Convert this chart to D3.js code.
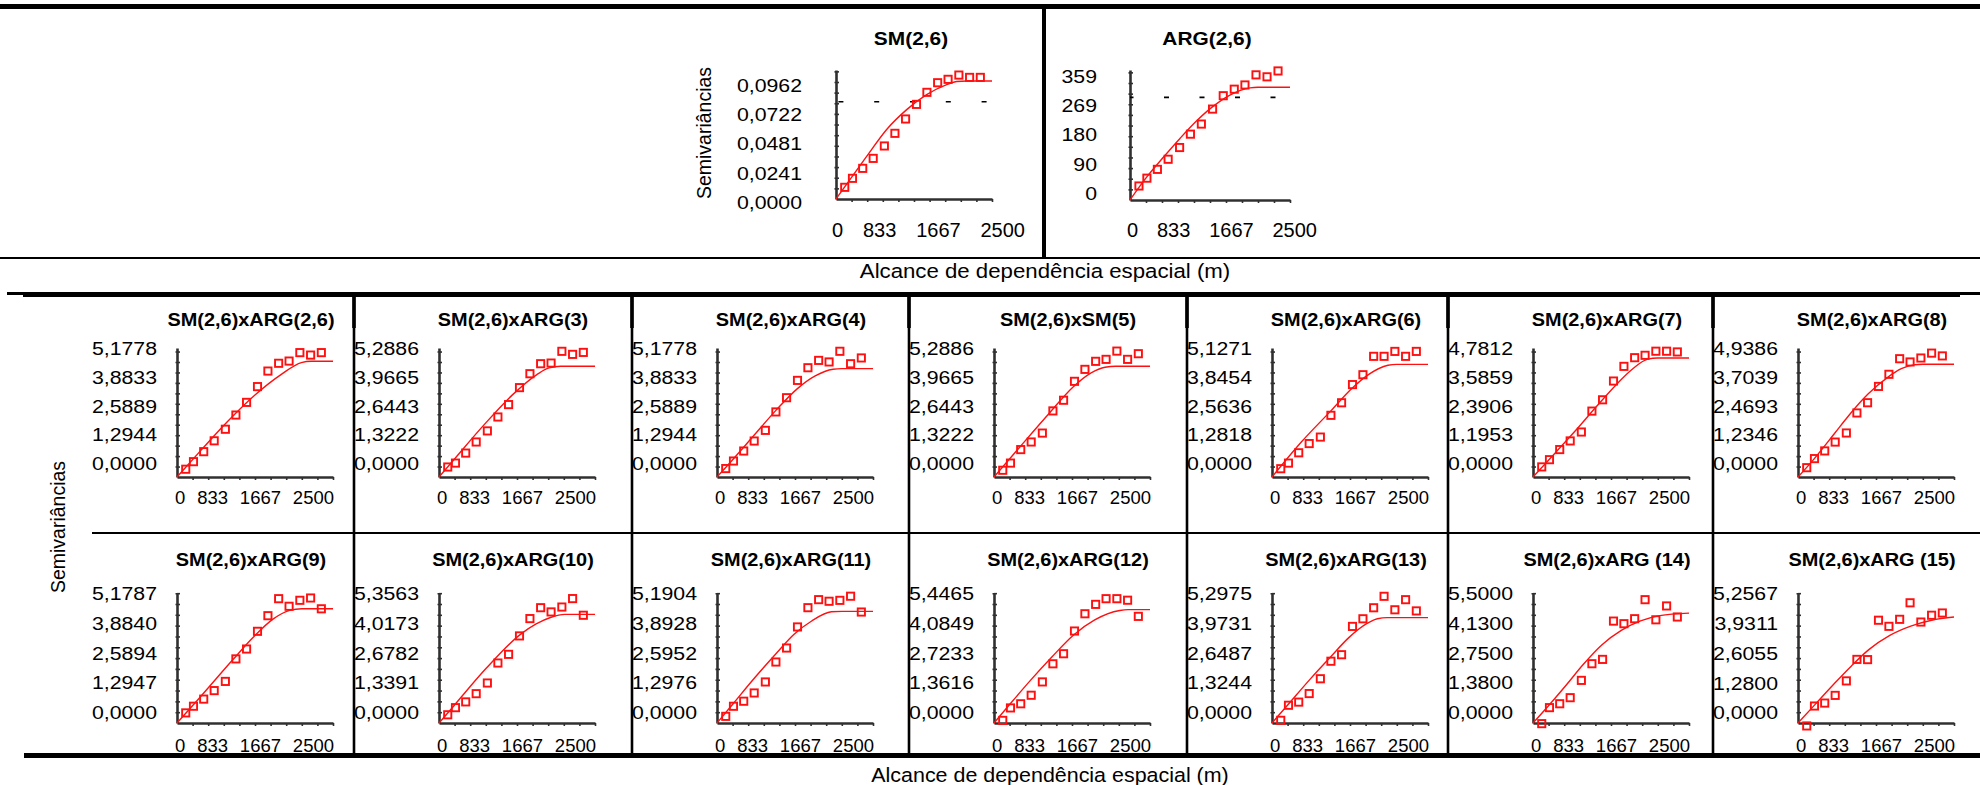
<!DOCTYPE html>
<html><head><meta charset="utf-8">
<script src="https://cdn.jsdelivr.net/npm/d3@7"></script>
<style>
body{margin:0;background:#fff}
svg{display:block}
text{font-family:"Liberation Sans",Arial,sans-serif;fill:#000}
</style></head>
<body><svg id="c" width="1980" height="785"></svg>
<script>
// ---------- DATA ----------
const lagDistances = [140, 264, 428, 596, 775, 944, 1115, 1290, 1457, 1629, 1796, 1969, 2141, 2313];
const xTickValues = [0, 833, 1667, 2500];
const xTickLabels = ["0", "833", "1667", "2500"];

// top panels
const topTitles = ["SM(2,6)", "ARG(2,6)"];
const semSM26 = [0.0096, 0.0170, 0.0252, 0.0334, 0.0436, 0.0540, 0.0658, 0.0778, 0.0877, 0.0956, 0.0984, 0.1019, 0.1000, 0.1000];
const fitSM26 = [[0,0],[171,0.0123],[491,0.0350],[812,0.0572],[1133,0.0735],[1453,0.0858],[1774,0.0940],[1934,0.0966],[2100,0.0970],[2500,0.0970]];
const ticksSM26 = ["0,0000","0,0241","0,0481","0,0722","0,0962"];
const varSM26 = 0.0800;
const semARG26 = [43, 67, 94, 125, 161, 202, 233, 279, 320, 340, 353, 384, 378, 396];
const fitARG26 = [[0,0],[260,70],[521,131],[781,189],[1042,243],[1302,288],[1562,322],[1875,344],[2000,346],[2500,346]];
const ticksARG26 = ["0","90","180","269","359"];
const varARG26 = 315;

// cross-semivariogram panels
const gridTitles = ["SM(2,6)xARG(2,6)","SM(2,6)xARG(3)","SM(2,6)xARG(4)","SM(2,6)xSM(5)","SM(2,6)xARG(6)","SM(2,6)xARG(7)","SM(2,6)xARG(8)",
  "SM(2,6)xARG(9)","SM(2,6)xARG(10)","SM(2,6)xARG(11)","SM(2,6)xARG(12)","SM(2,6)xARG(13)","SM(2,6)xARG (14)","SM(2,6)xARG (15)"];

const semX1  = [0.35, 0.69, 1.14, 1.63, 2.15, 2.79, 3.36, 4.07, 4.77, 5.12, 5.22, 5.60, 5.49, 5.60];
const semX2  = [0.46, 0.64, 1.10, 1.61, 2.12, 2.76, 3.33, 4.11, 4.75, 5.21, 5.24, 5.78, 5.64, 5.73];
const semX3  = [0.38, 0.72, 1.17, 1.62, 2.10, 2.93, 3.57, 4.35, 4.92, 5.25, 5.18, 5.66, 5.10, 5.36];
const semX4  = [0.31, 0.64, 1.26, 1.61, 2.02, 3.04, 3.53, 4.40, 4.95, 5.32, 5.41, 5.79, 5.41, 5.67];
const semX5  = [0.37, 0.62, 1.08, 1.49, 1.78, 2.75, 3.31, 4.12, 4.56, 5.38, 5.38, 5.60, 5.38, 5.60];
const semX6  = [0.42, 0.72, 1.14, 1.50, 1.87, 2.74, 3.21, 3.99, 4.60, 4.96, 5.06, 5.23, 5.23, 5.20];
const semX7  = [0.40, 0.79, 1.12, 1.50, 1.89, 2.75, 3.19, 3.89, 4.41, 5.08, 4.94, 5.11, 5.32, 5.20];
const semX8  = [0.44, 0.73, 1.04, 1.41, 1.81, 2.79, 3.22, 3.99, 4.67, 5.41, 5.08, 5.34, 5.44, 4.97];
const semX9  = [0.37, 0.69, 0.95, 1.32, 1.80, 2.70, 3.09, 3.92, 4.70, 5.19, 5.00, 5.22, 5.60, 4.85];
const semX10 = [0.29, 0.73, 0.95, 1.31, 1.79, 2.66, 3.27, 4.19, 5.03, 5.38, 5.31, 5.35, 5.53, 4.84];
const semX11 = [0.12, 0.69, 0.88, 1.27, 1.88, 2.71, 3.17, 4.21, 5.00, 5.43, 5.69, 5.69, 5.62, 4.88];
const semX12 = [0.12, 0.79, 0.93, 1.31, 1.97, 2.75, 3.04, 4.30, 4.64, 5.13, 5.64, 5.04, 5.49, 4.99];
const semX13 = [-0.03, 0.71, 0.89, 1.17, 1.97, 2.74, 2.94, 4.71, 4.59, 4.82, 5.70, 4.77, 5.41, 4.90];
const semX14 = [-0.13, 0.75, 0.88, 1.22, 1.86, 2.81, 2.80, 4.54, 4.27, 4.58, 5.31, 4.46, 4.76, 4.86];

const fitX1  = [[0,0],[390,1.22],[818,2.52],[1245,3.68],[1672,4.62],[1993,5.15],[2150,5.21],[2500,5.21]];
const fitX2  = [[0,0],[269,0.90],[728,2.42],[1185,3.80],[1563,4.70],[1763,5.02],[1950,5.09],[2500,5.09]];
const fitX3  = [[0,0],[258,0.80],[601,1.90],[944,3.00],[1289,3.98],[1574,4.55],[1860,4.85],[2000,4.88],[2500,4.88]];
const fitX4  = [[0,0],[414,1.38],[900,2.98],[1259,4.12],[1550,4.78],[1780,5.05],[1950,5.09],[2500,5.09]];
const fitX5  = [[0,0],[470,1.56],[951,2.97],[1271,3.92],[1539,4.55],[1859,4.98],[2000,5.02],[2500,5.02]];
const fitX6  = [[0,0],[348,0.98],[679,1.92],[1010,2.91],[1341,3.86],[1590,4.48],[1838,4.90],[2000,4.95],[2500,4.95]];
const fitX7  = [[0,0],[214,0.64],[588,1.88],[801,2.60],[1122,3.56],[1442,4.29],[1656,4.65],[1870,4.82],[2000,4.84],[2500,4.84]];
const fitX8  = [[0,0],[363,1.10],[897,2.76],[1218,3.72],[1538,4.52],[1806,4.90],[2000,4.97],[2500,4.97]];
const fitX9  = [[0,0],[240,0.78],[756,2.46],[1300,3.98],[1557,4.46],[1786,4.75],[2015,4.89],[2500,4.89]];
const fitX10 = [[0,0],[258,0.84],[601,1.96],[945,3.02],[1231,3.86],[1517,4.45],[1832,4.85],[2000,4.87],[2500,4.87]];
const fitX11 = [[0,0],[240,0.81],[584,1.95],[927,3.02],[1271,4.02],[1614,4.72],[2015,5.15],[2150,5.19],[2500,5.19]];
const fitX12 = [[0,0],[258,0.82],[601,1.92],[945,2.96],[1231,3.80],[1517,4.42],[1689,4.64],[1850,4.69],[2500,4.69]];
const fitX13 = [[0,0],[231,0.74],[540,1.78],[797,2.68],[1106,3.62],[1415,4.28],[1723,4.72],[2032,4.96],[2500,5.08]];
const fitX14 = [[0,0],[268,0.80],[576,1.72],[856,2.52],[1135,3.24],[1471,3.87],[1807,4.28],[2142,4.54],[2500,4.68]];

const ticksX1  = ["0,0000","1,2944","2,5889","3,8833","5,1778"];
const ticksX2  = ["0,0000","1,3222","2,6443","3,9665","5,2886"];
const ticksX3  = ["0,0000","1,2944","2,5889","3,8833","5,1778"];
const ticksX4  = ["0,0000","1,3222","2,6443","3,9665","5,2886"];
const ticksX5  = ["0,0000","1,2818","2,5636","3,8454","5,1271"];
const ticksX6  = ["0,0000","1,1953","2,3906","3,5859","4,7812"];
const ticksX7  = ["0,0000","1,2346","2,4693","3,7039","4,9386"];
const ticksX8  = ["0,0000","1,2947","2,5894","3,8840","5,1787"];
const ticksX9  = ["0,0000","1,3391","2,6782","4,0173","5,3563"];
const ticksX10 = ["0,0000","1,2976","2,5952","3,8928","5,1904"];
const ticksX11 = ["0,0000","1,3616","2,7233","4,0849","5,4465"];
const ticksX12 = ["0,0000","1,3244","2,6487","3,9731","5,2975"];
const ticksX13 = ["0,0000","1,3800","2,7500","4,1300","5,5000"];
const ticksX14 = ["0,0000","1,2800","2,6055","3,9311","5,2567"];

const yTitle = "Semivariâncias";
const xTitle = "Alcance de dependência espacial (m)";

// ---------- DRAW ----------
const svg = d3.select("#c");
const RED = "#ff1010", AX = "#303030";

function hline(x1, x2, y, w){ svg.append("line").attr("x1",x1).attr("x2",x2).attr("y1",y).attr("y2",y).attr("stroke","#000").attr("stroke-width",w); }
function vline(x, y1, y2, w){ svg.append("line").attr("x1",x).attr("x2",x).attr("y1",y1).attr("y2",y2).attr("stroke","#000").attr("stroke-width",w); }

// frame
hline(0, 1980, 6.5, 5);
vline(1044, 9, 258, 4);
hline(0, 1980, 258, 2);
hline(7, 1980, 293.5, 3);
hline(23, 1960, 294.5, 5);
[354, 632, 909, 1187, 1448, 1713].forEach(x => { vline(x, 297, 754, 2.6); vline(x, 297, 328, 3.6); });
hline(92, 1980, 533, 2);
hline(24, 1980, 755.5, 5);

function stretchedText(x, y, str, size, sx, weight, rotate){
  return svg.append("text")
    .attr("transform", `translate(${x},${y})` + (rotate ? ` rotate(${rotate})` : "") + ` scale(${sx},1)`)
    .attr("text-anchor","middle").attr("dominant-baseline","central")
    .style("font-size", size + "px").style("font-weight", weight || "normal").text(str);
}

function panel(c){
  const g = svg.append("g");
  const x = d3.scaleLinear().domain([0, 2500]).range([c.ox, c.ox + c.w]);
  const tickVals = c.yLabels.map(s => +s.replace(",", "."));
  const yTop = tickVals[tickVals.length - 1];
  const y = d3.scaleLinear().domain([0, yTop * c.hAxis / c.hMax]).range([c.oy, c.oy - c.hAxis]);
  const minorY = d3.range(1, 13).map(i => i * yTop / 11);

  // minor y ticks (crossing the axis)
  g.append("g").attr("transform", `translate(${c.ox},0)`)
    .call(d3.axisRight(y).tickValues(minorY).tickSize(3).tickFormat(""))
    .call(a => { a.select(".domain").remove(); a.selectAll("line").attr("stroke", AX).attr("stroke-width", 1.6); });
  g.append("g").attr("transform", `translate(${c.ox},0)`)
    .call(d3.axisLeft(y).tickValues(minorY).tickSize(1.5).tickFormat(""))
    .call(a => { a.select(".domain").remove(); a.selectAll("line").attr("stroke", AX).attr("stroke-width", 1.6); });
  // x axis with minor ticks
  g.append("g").attr("transform", `translate(0,${c.oy})`)
    .call(d3.axisBottom(x).tickValues(d3.range(250, 2501, 250)).tickSize(3).tickSizeOuter(0).tickFormat(""))
    .call(a => { a.select(".domain").attr("stroke", AX).attr("stroke-width", 2.6); a.selectAll("line").attr("stroke", AX).attr("stroke-width", 1.6); });

  // y axis with labels
  const ya = g.append("g").attr("transform", `translate(${c.ox},0)`)
    .call(d3.axisLeft(y).tickValues(tickVals).tickFormat((d, i) => c.yLabels[i]).tickSize(0).tickSizeOuter(0).tickPadding(c.gap));
  ya.attr("font-family", null).attr("font-size", null);
  ya.select(".domain").attr("stroke", AX).attr("stroke-width", 2.6);
  ya.selectAll("text").attr("fill", "#000").style("font-size", c.yFont + "px")
    .attr("x", -c.gap / c.ySx).attr("dy", null).attr("y", c.shift)
    .attr("dominant-baseline", "central").attr("transform", `scale(${c.ySx},1)`);

  // x labels, justified along the axis
  const xa = g.append("g").attr("transform", `translate(0,${c.oy})`)
    .call(d3.axisBottom(x).tickValues(xTickValues).tickFormat((d, i) => xTickLabels[i]).tickSize(0));
  xa.attr("font-family", null).attr("font-size", null);
  xa.select(".domain").remove();
  const texts = xa.selectAll("text").attr("fill", "#000").style("font-size", c.xFont + "px")
    .attr("dy", null).attr("y", c.xlY - c.oy).attr("dominant-baseline", "central").attr("text-anchor", "start");
  const widths = texts.nodes().map(n => n.getComputedTextLength());
  const start = x(0) + c.xlStart, end = x(2500) + c.xlEnd;
  const gap = (end - start - d3.sum(widths)) / (widths.length - 1);
  let cur = start;
  texts.each(function(d, i){ d3.select(this).attr("x", cur - x(d) - 0.5); cur += widths[i] + gap; });

  // variance reference (dashed)
  if (c.variance != null) {
    g.append("line").attr("x1", x(0)).attr("x2", x(2500)).attr("y1", y(c.variance)).attr("y2", y(c.variance))
      .attr("stroke", "#000").attr("stroke-width", 1.6).attr("stroke-dasharray", "5 " + c.dashGap)
      .attr("stroke-dashoffset", c.dashOff);
  }

  // fitted model
  g.append("path").datum(c.fit)
    .attr("d", d3.line().x(d => x(d[0])).y(d => y(d[1])).curve(d3.curveMonotoneX))
    .attr("fill", "none").attr("stroke", RED).attr("stroke-width", 1.4);

  // experimental points
  const s = 7.2;
  g.selectAll("rect.pt").data(c.sem).join("rect").attr("class", "pt")
    .attr("x", (d, i) => x(lagDistances[i]) - s / 2).attr("y", d => y(d) - s / 2)
    .attr("width", s).attr("height", s).attr("fill", "none").attr("stroke", RED).attr("stroke-width", 1.9);

  // title
  stretchedText(c.ox + c.w / 2 + c.titleDx, c.titleY, c.title, c.tFont, c.tSx, "bold");
}

// top panels
const topBase = { w: 156, hAxis: 129, hMax: 117, gap: 34, titleY: 38, xlY: 230, yFont: 18.5, ySx: 1.15, xFont: 20, tFont: 18.5, tSx: 1.13, titleDx: -3 };
panel(Object.assign({}, topBase, { ox: 836, oy: 199, shift: 3, xlStart: -4, xlEnd: 33, title: topTitles[0],
  yLabels: ticksSM26, sem: semSM26, fit: fitSM26, variance: varSM26, dashGap: 30.8, dashOff: -2.4 }));
panel(Object.assign({}, topBase, { ox: 1130, oy: 200, w: 160, hAxis: 130, gap: 33, shift: -7, xlStart: -3, xlEnd: 27, title: topTitles[1],
  yLabels: ticksARG26, sem: semARG26, fit: fitARG26, variance: varARG26, dashGap: 30.5, dashOff: 1.5 }));

stretchedText(704, 133, yTitle, 19.5, 1, "normal", -90);
stretchedText(1045, 271, xTitle, 19.5, 1.14, "normal");

// grid
const colLeft = [92, 354, 632, 909, 1187, 1448, 1713];
const rows = [
  { titleY: 320, oy: 477, hAxis: 129, hMax: 115, shift: -14, xlY: 497 },
  { titleY: 560, oy: 723, hAxis: 130, hMax: 119, shift: -11, xlY: 745 }
];
const gridSem = [semX1, semX2, semX3, semX4, semX5, semX6, semX7, semX8, semX9, semX10, semX11, semX12, semX13, semX14];
const gridFit = [fitX1, fitX2, fitX3, fitX4, fitX5, fitX6, fitX7, fitX8, fitX9, fitX10, fitX11, fitX12, fitX13, fitX14];
const gridTicks = [ticksX1, ticksX2, ticksX3, ticksX4, ticksX5, ticksX6, ticksX7, ticksX8, ticksX9, ticksX10, ticksX11, ticksX12, ticksX13, ticksX14];

gridTitles.forEach((t, k) => {
  const r = rows[Math.floor(k / 7)], col = k % 7;
  panel(Object.assign({}, r, { ox: colLeft[col] + 85, w: 156, gap: 20, yFont: 18.5, ySx: 1.15, xFont: 18.5,
    xlStart: -2, xlEnd: 1, tFont: 17.8, tSx: 1.12, titleDx: -4, title: t,
    yLabels: gridTicks[k], sem: gridSem[k], fit: gridFit[k] }));
});

stretchedText(58, 527, yTitle, 19.5, 1, "normal", -90);
stretchedText(1050, 775, xTitle, 19.5, 1.10, "normal");
</script>
</body></html>
